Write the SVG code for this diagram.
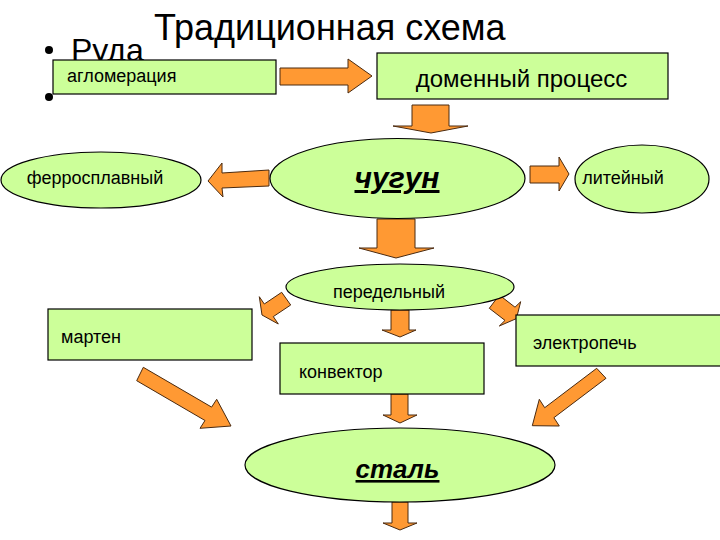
<svg xmlns="http://www.w3.org/2000/svg" width="720" height="540" viewBox="0 0 720 540">
<style>
.box{fill:#ccff99;stroke:#000;stroke-width:1.2}
.arr{fill:#ff9933;stroke:#4a2a10;stroke-width:1}
.t{font-family:"Liberation Sans",Arial,sans-serif;fill:#000}
.s18{font-size:18px}
.bi{font-weight:bold;font-style:italic;text-decoration:underline}
</style>
<rect width="720" height="540" fill="#fff"/>
<g id="title">
<text class="t" x="154" y="40" font-size="36">Традиционная схема</text>
</g>
<g id="bullets">
<circle cx="49" cy="50" r="4" fill="#000"/>
<circle cx="49" cy="97" r="4" fill="#000"/>
<text class="t" x="71" y="61" font-size="32">Руда</text>
</g>
<g id="connectors">
<polygon class="arr" points="280,68 348,68 348,59 372,76 348,93 348,85 280,85"/>
<polygon class="arr" points="412,105 449,105 449,126 468,126 431,133 393,126 412,126"/>
<polygon class="arr" points="269,170 222,173 222,163 208,181 223,197 222,188 269,186"/>
<polygon class="arr" points="530,166 559,166 559,157 569,174 559,191 559,183 530,183"/>
<polygon class="arr" points="377,219 415,219 415,248 434,248 396,258 359,248 377,248"/>
<polygon class="arr" points="281.7,292.3 264.3,304 259.3,296.7 262,315 278.3,324 273.3,316.6 290.7,305"/>
<polygon class="arr" points="499.3,295 515,307.2 520.7,301.7 516.4,318.6 499.3,326 505,320.4 489.3,308.3"/>
<polygon class="arr" points="391,310 409,310 409,330 416,330 400,337 382,330 391,330"/>
<polygon class="arr" points="143.3,367.3 211.6,407.1 216.7,399.3 231,426 200,428.3 205,420.5 136.7,380.7"/>
<polygon class="arr" points="596.7,368.3 544.7,407.7 539.3,399.3 532.3,425.7 559.3,426 553.9,417.7 606,378.3"/>
<polygon class="arr" points="391,394 408,394 408,415 417,415 400,423 383,415 391,415"/>
<polygon class="arr" points="392,502 408,502 408,523 417,523 400,530 383,523 392,523"/>
</g>
<g id="aglomeracia">
<rect class="box" x="53" y="60" width="223" height="34"/>
<text class="t s18" x="67" y="82">агломерация</text>
</g>
<g id="domennyi">
<rect class="box" x="377" y="53" width="291" height="46"/>
<text class="t" x="521.5" y="87" font-size="24" text-anchor="middle">доменный процесс</text>
</g>
<g id="chugun">
<ellipse class="box" cx="397.5" cy="178.5" rx="127.5" ry="40"/>
<text class="t bi" x="397" y="188" font-size="30" text-anchor="middle">чугун</text>
</g>
<g id="ferro">
<ellipse class="box" cx="101" cy="180" rx="100" ry="28"/>
<text class="t s18" x="95" y="184" text-anchor="middle">ферросплавный</text>
</g>
<g id="liteinyi">
<ellipse class="box" cx="642" cy="179" rx="67" ry="34"/>
<text class="t s18" x="623" y="184" text-anchor="middle">литейный</text>
</g>
<g id="peredelnyi">
<ellipse class="box" cx="400" cy="287" rx="114" ry="23"/>
<text class="t s18" x="389" y="298" text-anchor="middle">передельный</text>
</g>
<g id="marten">
<rect class="box" x="48" y="309" width="204" height="51"/>
<text class="t s18" x="61" y="343">мартен</text>
</g>
<g id="konvektor">
<rect class="box" x="280" y="343" width="204" height="51"/>
<text class="t s18" x="299" y="378">конвектор</text>
</g>
<g id="elektropech">
<rect class="box" x="516" y="315" width="210" height="51"/>
<text class="t s18" x="533" y="349">электропечь</text>
</g>
<g id="stal">
<ellipse class="box" cx="400" cy="465" rx="155" ry="37"/>
<text class="t bi" x="397.5" y="478" font-size="26" text-anchor="middle">сталь</text>
</g>
</svg>
